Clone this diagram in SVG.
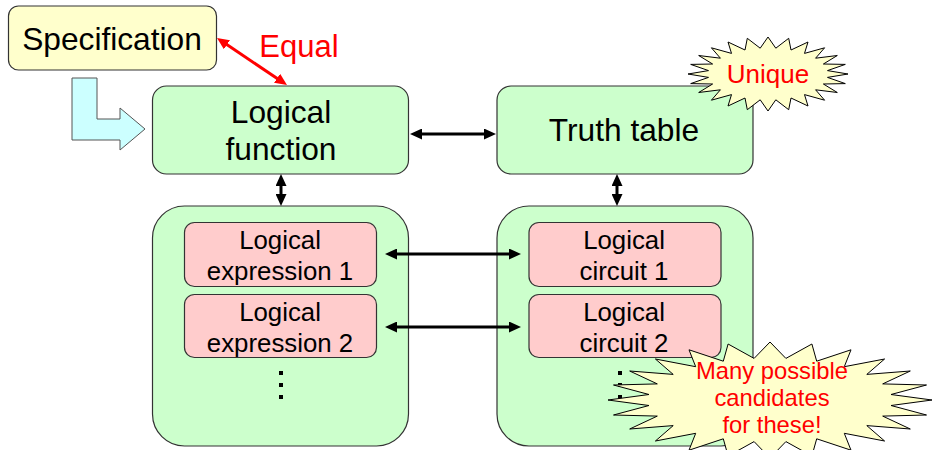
<svg xmlns="http://www.w3.org/2000/svg" width="932" height="450" viewBox="0 0 932 450">
<style>
text{font-family:"Liberation Sans",Arial,sans-serif;text-anchor:middle}
.box{stroke:#333;stroke-width:1.2}
.green{fill:#CCFFCC}
.pink{fill:#FFCCCC}
.yellow{fill:#FFFFCC}
.t30{font-size:31.7px;fill:#000}
.t25{font-size:25.8px;fill:#000}
.red{fill:#FF0000}
.con{stroke:#000;stroke-width:3;fill:none;marker-start:url(#ah);marker-end:url(#ah)}
</style>
<defs>
<marker id="ah" markerUnits="userSpaceOnUse" markerWidth="12" markerHeight="11" refX="2" refY="5.5" orient="auto-start-reverse" viewBox="0 0 12 11">
<path d="M0,0 L12,5.5 L0,11 z" fill="#000"/>
</marker>
<marker id="ahr" markerUnits="userSpaceOnUse" markerWidth="12" markerHeight="11" refX="2" refY="5.5" orient="auto-start-reverse" viewBox="0 0 12 11">
<path d="M0,0 L12,5.5 L0,11 z" fill="#FF0000"/>
</marker>
</defs>
<rect width="932" height="450" fill="#fff"/>

<g id="specification">
<rect class="box yellow" x="8.5" y="6" width="208" height="64" rx="10"/>
<text class="t30" x="112" y="50">Specification</text>
</g>

<g id="flow-arrow">
<path d="M72,78 L97,78 L97,119 L120,119 L120,108 L145,129 L120,150 L120,140 L72,140 Z" fill="#CCFFFF" stroke="#555" stroke-width="1"/>
</g>

<g id="logical-function">
<rect class="box green" x="152.5" y="86" width="256" height="88" rx="14"/>
<text class="t30" x="281" y="123">Logical</text>
<text class="t30" x="281" y="160">function</text>
</g>

<g id="truth-table">
<rect class="box green" x="497" y="86" width="256" height="88" rx="14"/>
<text class="t30" x="624" y="141">Truth table</text>
</g>

<g id="expressions">
<rect class="box green" x="152.5" y="206" width="256" height="240" rx="32"/>
<g id="expr1">
<rect class="box pink" x="184.5" y="222.5" width="192" height="64" rx="10"/>
<text class="t25" x="280" y="249">Logical</text>
<text class="t25" x="280" y="280">expression 1</text>
</g>
<g id="expr2">
<rect class="box pink" x="184.5" y="294.5" width="192" height="63" rx="10"/>
<text class="t25" x="280" y="321">Logical</text>
<text class="t25" x="280" y="352">expression 2</text>
</g>
<g fill="#000">
<rect x="279" y="371" width="4" height="4"/>
<rect x="279" y="383" width="4" height="4"/>
<rect x="279" y="395" width="4" height="4"/>
</g>
</g>

<g id="circuits">
<rect class="box green" x="497" y="206" width="256" height="240" rx="32"/>
<g id="circ1">
<rect class="box pink" x="529" y="222.5" width="192" height="64" rx="10"/>
<text class="t25" x="624" y="249">Logical</text>
<text class="t25" x="624" y="280">circuit 1</text>
</g>
<g id="circ2">
<rect class="box pink" x="529" y="294.5" width="192" height="63" rx="10"/>
<text class="t25" x="624" y="321">Logical</text>
<text class="t25" x="624" y="352">circuit 2</text>
</g>
<g fill="#000">
<rect x="618" y="371" width="4" height="4"/>
<rect x="618" y="383" width="4" height="4"/>
<rect x="618" y="395" width="4" height="4"/>
</g>
</g>

<g id="connectors">
<line class="con" x1="420" y1="134" x2="486" y2="134"/>
<line class="con" x1="281" y1="184" x2="281" y2="196"/>
<line class="con" x1="617" y1="184" x2="617" y2="196"/>
<line class="con" x1="395" y1="254" x2="511" y2="254"/>
<line class="con" x1="395" y1="327" x2="511" y2="327"/>
<line x1="225.3" y1="43.6" x2="278.7" y2="79.4" stroke="#FF0000" stroke-width="3" marker-start="url(#ahr)" marker-end="url(#ahr)"/>
</g>

<g id="equal-label">
<text class="red" x="299" y="57" font-size="31px">Equal</text>
</g>

<g id="unique">
<polygon fill="#FFFFCC" stroke="#000" stroke-width="1" points="848,74 827.5,77.4 845.3,83.6 823.4,84 837.3,92.5 815.6,89.8 824.6,100.2 804.5,94.6 808,106 791,98 788.7,109.7 775.8,99.8 768,111 760.2,99.8 747.3,109.7 745,98 728,106 731.5,94.6 711.4,100.2 720.4,89.8 698.7,92.5 712.6,84 690.7,83.6 708.5,77.4 688,74 708.5,70.6 690.7,64.4 712.6,64 698.7,55.5 720.4,58.2 711.4,47.8 731.5,53.4 728,42 745,50 747.3,38.3 760.2,48.2 768,37 775.8,48.2 788.7,38.3 791,50 808,42 804.5,53.4 824.6,47.8 815.6,58.2 837.3,55.5 823.4,64 845.3,64.4 827.5,70.6"/>
<text class="red" x="768" y="83" font-size="26px">Unique</text>
</g>

<g id="many-candidates">
<polygon fill="#FFFFCC" stroke="#000" stroke-width="1" points="932,400 891,405.5 926.5,415 882.7,416.1 910.3,429 866.8,425.6 884.6,441 844.3,433.3 851,450.2 816.7,438.8 811.9,456 785.9,441.6 770,458 754.1,441.6 728.1,456 723.3,438.8 689,450.2 695.7,433.3 655.4,441 673.2,425.6 629.7,429 657.3,416.1 613.5,415 649,405.5 608,400 649,394.5 613.5,385 657.3,383.9 629.7,371 673.2,374.4 655.4,359 695.7,366.7 689,349.8 723.3,361.2 728.1,344 754.1,358.4 770,342 785.9,358.4 811.9,344 816.7,361.2 851,349.8 844.3,366.7 884.6,359 866.8,374.4 910.3,371 882.7,383.9 926.5,385 891,394.5"/>
<text class="red" font-size="23.8px"><tspan x="772" y="379">Many possible</tspan><tspan x="772" y="406">candidates</tspan><tspan x="772" y="433">for these!</tspan></text>
</g>
</svg>
